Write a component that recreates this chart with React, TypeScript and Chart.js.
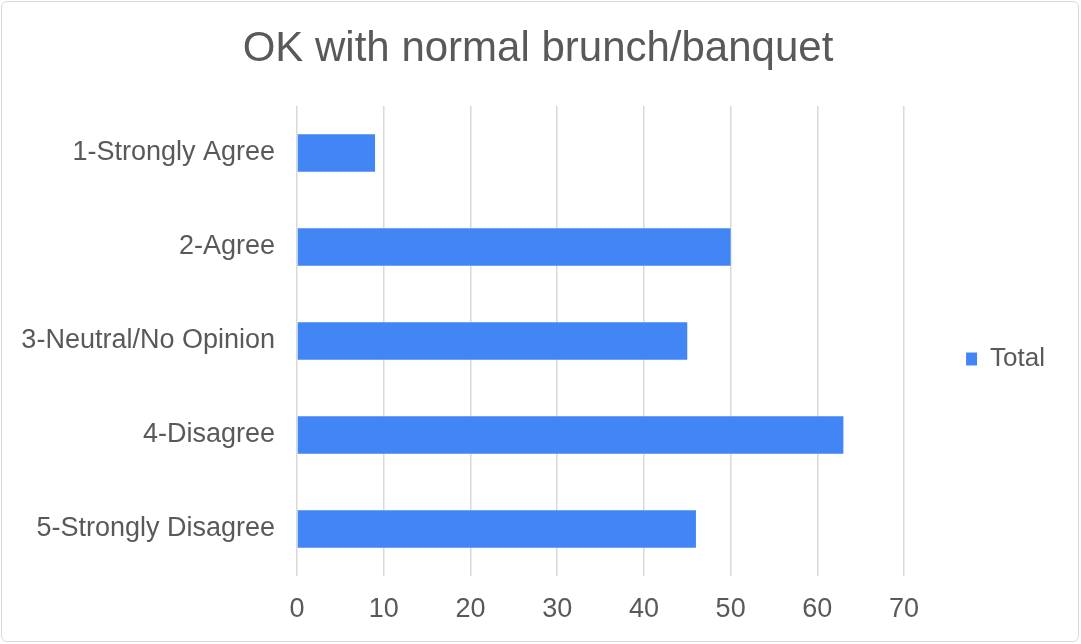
import React, { useEffect, useRef } from "react";
import { Chart, registerables } from "chart.js";

Chart.register(...registerables);

const chartTitle = "OK with normal brunch/banquet";
const categories = [
  "1-Strongly Agree",
  "2-Agree",
  "3-Neutral/No Opinion",
  "4-Disagree",
  "5-Strongly Disagree",
];
const seriesName = "Total";
const totals = [9, 50, 45, 63, 46];
const xMin = 0;
const xMax = 70;
const xStep = 10;

const FONT = "'Liberation Sans', Arial, Helvetica, sans-serif";
const TEXT = "#595959";
const GRID = "#d9d9d9";
const BAR = "#4285F4";

export default function App() {
  const ref = useRef<HTMLCanvasElement>(null);

  useEffect(() => {
    if (!ref.current) return;
    const chart = new Chart(ref.current, {
      type: "bar",
      data: {
        labels: categories,
        datasets: [
          {
            label: seriesName,
            data: totals,
            backgroundColor: BAR,
            borderWidth: 0,
            barPercentage: 0.4,
            categoryPercentage: 1.0,
          },
        ],
      },
      options: {
        indexAxis: "y",
        responsive: false,
        animation: false,
        layout: { padding: { top: 0, left: 21, right: 26, bottom: 1.6 } },
        plugins: {
          title: {
            display: true,
            text: chartTitle,
            color: TEXT,
            font: { family: FONT, size: 42, weight: "normal", lineHeight: 1.2 },
            padding: { top: 24, bottom: 31.6 },
          },
          legend: {
            display: true,
            position: "right",
            fullSize: false,
            align: "center",
            title: {
              display: true,
              text: " ",
              font: { family: FONT, size: 12, lineHeight: 1 },
              padding: 12,
            },
            labels: {
              boxWidth: 11,
              boxHeight: 13,
              padding: 62,
              color: TEXT,
              font: { family: FONT, size: 26 },
            },
          },
          tooltip: { enabled: false },
        },
        scales: {
          x: {
            type: "linear",
            position: "bottom",
            min: xMin,
            max: xMax,
            ticks: {
              stepSize: xStep,
              color: TEXT,
              padding: 17,
              font: { family: FONT, size: 27 },
            },
            grid: {
              display: true,
              color: GRID,
              lineWidth: 1.5,
              drawTicks: false,
            },
            border: { display: false },
          },
          y: {
            type: "category",
            afterFit: (scale: any) => {
              scale.width = 276;
            },
            ticks: {
              color: TEXT,
              padding: 22,
              font: { family: FONT, size: 27 },
            },
            grid: { display: false, drawTicks: false },
            border: { display: false },
          },
        },
      },
    });
    return () => chart.destroy();
  }, []);

  return (
    <div style={{ position: "absolute", left: 0, top: 0, width: 1081, height: 644, background: "#fff" }}>
      <canvas ref={ref} width={1081} height={644} style={{ display: "block", width: 1081, height: 644 }} />
      <div
        style={{
          position: "absolute",
          left: 1,
          top: 1,
          width: 1078,
          height: 641,
          border: "1px solid #d9d9d9",
          borderRadius: 6,
          boxSizing: "border-box",
          pointerEvents: "none",
        }}
      />
    </div>
  );
}
